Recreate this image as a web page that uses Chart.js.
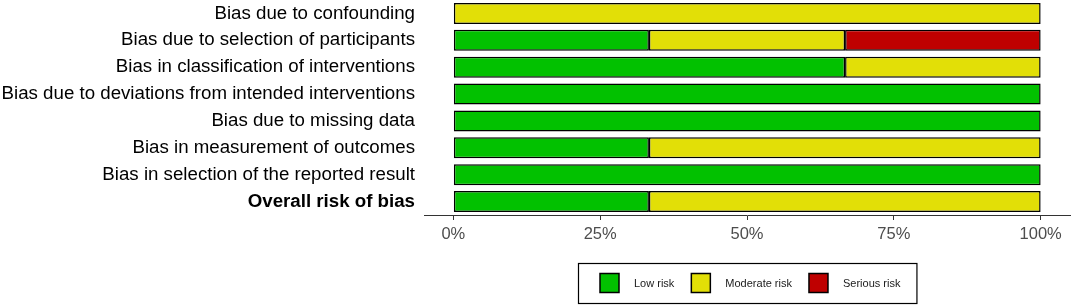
<!DOCTYPE html>
<html>
<head>
<meta charset="utf-8">
<script src="https://cdn.jsdelivr.net/npm/chart.js@4"></script>
<style>
    html, body { margin: 0; padding: 0; background: #fff; }
    #wrap { width: 1072px; height: 306px; }
</style>
</head>
<body>
<div id="wrap"><canvas id="robChart" width="1072" height="306"></canvas></div>
<script>
const domains = [
    'Bias due to confounding',
    'Bias due to selection of participants',
    'Bias in classification of interventions',
    'Bias due to deviations from intended interventions',
    'Bias due to missing data',
    'Bias in measurement of outcomes',
    'Bias in selection of the reported result',
    'Overall risk of bias'
];
const lowRisk      = [null, 33.3, 66.7, 100, 100, 33.3, 100, 33.3];
const moderateRisk = [100, 33.4, 33.3, null, null, 66.7, null, 66.7];
const seriousRisk  = [null, 33.3, null, null, null, null, null, null];
const percentTicks = [0, 25, 50, 75, 100];

const colours = {
    low: '#02C100',
    moderate: '#E2DF07',
    serious: '#BF0000'
};

// boxed legend at the bottom, centred on the plot area
const boxLegend = {
    id: 'boxLegend',
    afterDraw(chart) {
        const ctx = chart.ctx;
        const area = chart.chartArea;
        const items = chart.data.datasets;
        const sw = 19, gapText = 15, gapItem = 17, padL = 22, padR = 16;
        ctx.save();
        ctx.font = '11px "Liberation Sans", Arial, sans-serif';
        let total = padL + padR;
        items.forEach((d, i) => {
            total += sw + gapText + ctx.measureText(d.label).width;
            if (i < items.length - 1) total += gapItem;
        });
        const boxTop = 263, boxH = 40;
        const left = Math.round((area.left + area.right) / 2 - total / 2);
        ctx.strokeStyle = '#000';
        ctx.lineWidth = 1.2;
        ctx.strokeRect(left + 0.5, boxTop + 0.5, total, boxH);
        let x = left + padL;
        const cy = boxTop + boxH / 2;
        items.forEach(d => {
            ctx.fillStyle = d.backgroundColor;
            ctx.fillRect(x, cy - sw / 2, sw, sw);
            ctx.lineWidth = 1.5;
            ctx.strokeRect(x, cy - sw / 2, sw, sw);
            x += sw + gapText;
            ctx.fillStyle = '#1a1a1a';
            ctx.textBaseline = 'middle';
            ctx.textAlign = 'left';
            ctx.fillText(d.label, x, cy + 0.5);
            x += ctx.measureText(d.label).width + gapItem;
        });
        ctx.restore();
    }
};

const barStyle = {
    borderColor: '#000',
    borderWidth: 1.5,
    borderSkipped: false,
    barPercentage: 0.78,
    categoryPercentage: 1
};

new Chart(document.getElementById('robChart'), {
    type: 'bar',
    data: {
        labels: domains,
        datasets: [
            Object.assign({ label: 'Low risk', data: lowRisk, backgroundColor: colours.low }, barStyle),
            Object.assign({ label: 'Moderate risk', data: moderateRisk, backgroundColor: colours.moderate }, barStyle),
            Object.assign({ label: 'Serious risk', data: seriousRisk, backgroundColor: colours.serious }, barStyle)
        ]
    },
    options: {
        indexAxis: 'y',
        responsive: false,
        animation: false,
        layout: { padding: { top: 0, right: 2, left: 0, bottom: 0 } },
        plugins: {
            legend: { display: false },
            tooltip: { enabled: false }
        },
        scales: {
            x: {
                stacked: true,
                min: -5,
                max: 105,
                afterBuildTicks: function (scale) {
                    scale.ticks = percentTicks.map(v => ({ value: v }));
                },
                afterFit: function (scale) {
                    scale.height = 91;
                },
                grid: {
                    drawOnChartArea: false,
                    drawTicks: true,
                    tickLength: 5,
                    color: '#333'
                },
                border: { display: true, color: '#333', width: 1 },
                ticks: {
                    padding: 5,
                    color: '#4d4d4d',
                    font: { family: '"Liberation Sans", Arial, sans-serif', size: 16.5 },
                    callback: function (v) { return v + '%'; }
                }
            },
            y: {
                stacked: true,
                afterFit: function (scale) {
                    scale.width = 424;
                    scale.paddingTop = 0;
                    scale.paddingBottom = 0;
                },
                grid: { display: false, drawTicks: false },
                border: { display: false },
                ticks: {
                    padding: 9,
                    color: '#000',
                    font: function (ctx) {
                        return {
                            family: '"Liberation Sans", Arial, sans-serif',
                            size: 18.7,
                            weight: ctx.index === domains.length - 1 ? 'bold' : 'normal'
                        };
                    }
                }
            }
        }
    },
    plugins: [boxLegend]
});
</script>
</body>
</html>
